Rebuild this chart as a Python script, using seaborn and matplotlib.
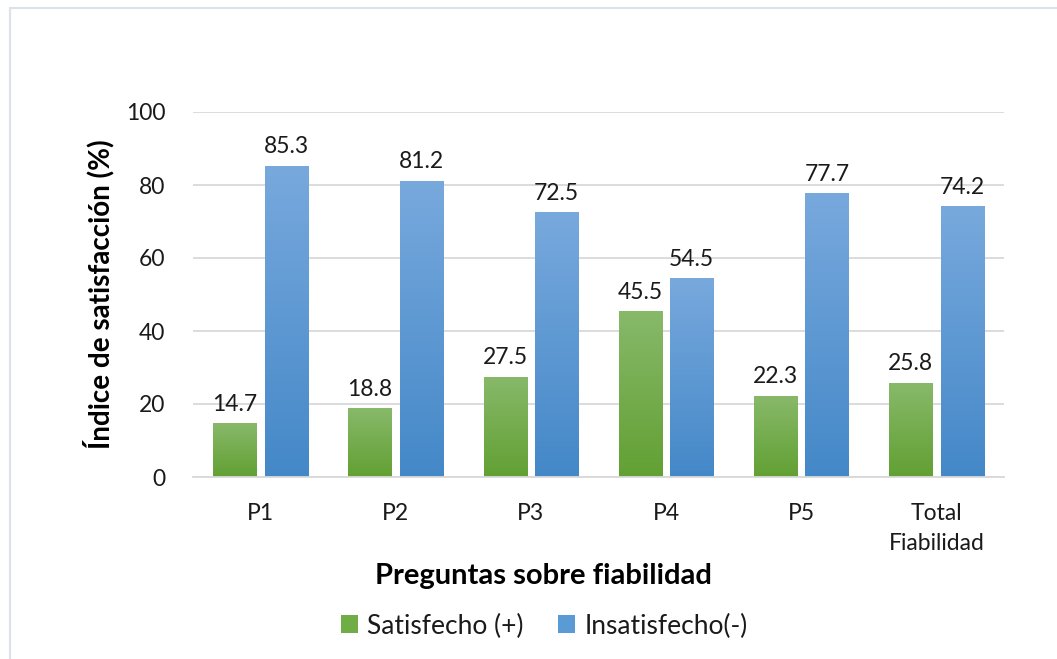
import numpy as np
import pandas as pd
import matplotlib
matplotlib.use("Agg")
import matplotlib.pyplot as plt
from matplotlib.colors import LinearSegmentedColormap
from matplotlib.patches import Rectangle, Patch
import seaborn as sns

# Survey results: share of satisfied / dissatisfied answers per question
preguntas = ["P1", "P2", "P3", "P4", "P5", "Total\nFiabilidad"]
satisfecho = [14.7, 18.8, 27.5, 45.5, 22.3, 25.8]
insatisfecho = [85.3, 81.2, 72.5, 54.5, 77.7, 74.2]
series = ["Satisfecho (+)", "Insatisfecho(-)"]
y_ticks = [0, 20, 40, 60, 80, 100]

df = pd.DataFrame({
    "pregunta": preguntas * 2,
    "valor": satisfecho + insatisfecho,
    "serie": [series[0]] * len(preguntas) + [series[1]] * len(preguntas),
})

sns.set_theme(style="white")
plt.rcParams["font.family"] = ["Lato", "DejaVu Sans"]

# gradient ends (top -> bottom) for each series
grad = {
    series[0]: ("#88b96a", "#62a033"),
    series[1]: ("#78a9dd", "#4488c8"),
}
mid = {series[0]: "#70ad47", series[1]: "#5b9bd5"}

TXT = "#1a1a1a"
FS = 16.5

fig = plt.figure(figsize=(10.57, 6.59), dpi=100)
ax = fig.add_axes([193 / 1057, 1 - 477 / 659, (1004 - 193) / 1057, (477 - 112) / 659])

sns.barplot(data=df, x="pregunta", y="valor", hue="serie", order=preguntas,
            hue_order=series, palette=mid, width=0.76, gap=0.16,
            ax=ax, legend=False, saturation=1)

# vertical gradient fill clipped to each bar
for cont, name in zip(ax.containers, series):
    cmap = LinearSegmentedColormap.from_list(name, [grad[name][1], grad[name][0]])
    g = np.linspace(0, 1, 256).reshape(-1, 1)
    for bar in cont:
        x0, y0 = bar.get_x(), bar.get_y()
        w, h = bar.get_width(), bar.get_height()
        bar.set_facecolor("none")
        bar.set_edgecolor("none")
        im = ax.imshow(g, cmap=cmap, origin="lower", aspect="auto",
                       extent=[x0, x0 + w, y0, y0 + h], zorder=2,
                       interpolation="bilinear")
        im.set_clip_path(bar)
    ax.bar_label(cont, fmt="%.1f", padding=6, fontsize=FS, color=TXT)

ax.set_ylim(0, 100)
ax.set_xlim(-0.5, len(preguntas) - 0.5)

ax.set_yticks(y_ticks)
ax.yaxis.grid(True, color="#d9d9d9", linewidth=1.3)
ax.set_axisbelow(True)
for s in ["top", "right", "left"]:
    ax.spines[s].set_visible(False)
ax.spines["bottom"].set_color("#d9d9d9")
ax.spines["bottom"].set_linewidth(1.3)
ax.tick_params(axis="y", length=0, pad=20, labelsize=FS, labelcolor=TXT)
ax.tick_params(axis="x", length=0, pad=19, labelsize=FS, labelcolor=TXT)
for t in ax.get_xticklabels():
    t.set_linespacing(1.5)

ax.set_xlabel("Preguntas sobre fiabilidad", fontsize=21, fontweight="bold",
              color="#000000", labelpad=0)
ax.xaxis.set_label_coords(0.432, -0.236)
ax.set_ylabel("Índice de satisfacción (%)", fontsize=20, fontweight="bold",
              color="#000000")
ax.yaxis.set_label_coords(-0.097, 0.5)

handles = [Patch(facecolor=mid[s], edgecolor="none") for s in series]
fig.legend(handles, series, loc="center", bbox_to_anchor=(544 / 1057, 1 - 626 / 659),
           ncol=2, frameon=False, fontsize=19, handlelength=0.65, handleheight=0.65,
           handletextpad=0.35, columnspacing=1.3, labelcolor=TXT)

# chart frame
fig.patches.append(Rectangle((10 / 1057, -0.1), 2, (659 - 8) / 659 + 0.1,
                             transform=fig.transFigure, fill=False,
                             edgecolor="#dde2ea", linewidth=1.5))

fig.savefig("out.png", dpi=100)
